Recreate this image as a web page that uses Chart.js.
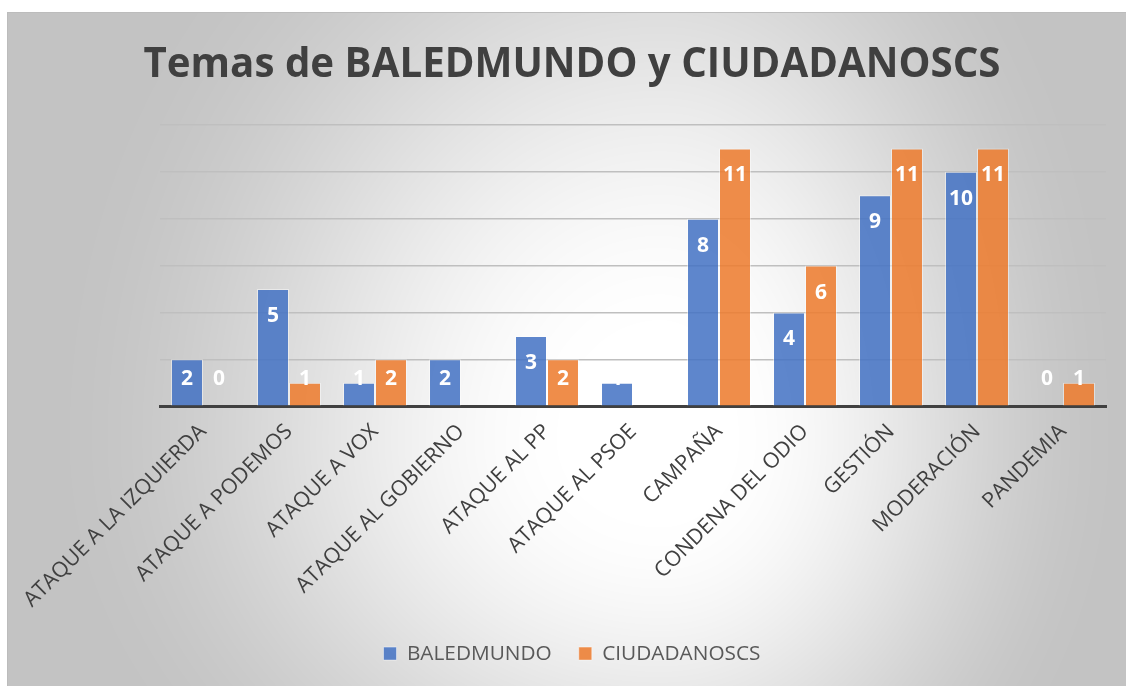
<!DOCTYPE html>
<html><head><meta charset="utf-8">
<script src="https://cdn.jsdelivr.net/npm/chart.js@4.4.1/dist/chart.umd.min.js"></script>
<style>
html,body{margin:0;padding:0;background:#fff;overflow:hidden;}
#wrap{position:absolute;left:7px;top:12px;width:1119px;height:674px;border-top:1px solid #bcbcbc;border-left:1px solid #bcbcbc;}
canvas{display:block;}
</style></head><body>
<div id="wrap"><canvas id="c" width="1118" height="673"></canvas></div>
<script>
const titleText = 'Temas de BALEDMUNDO y CIUDADANOSCS';
const categories = ['ATAQUE A LA IZQUIERDA','ATAQUE A PODEMOS','ATAQUE A VOX','ATAQUE AL GOBIERNO','ATAQUE AL PP','ATAQUE AL PSOE','CAMPAÑA','CONDENA DEL ODIO','GESTIÓN','MODERACIÓN','PANDEMIA'];
const seriesNames = ['BALEDMUNDO','CIUDADANOSCS'];
const baledmundo = [2,5,1,2,3,1,8,4,9,10,0];
const ciudadanoscs = [0,1,2,null,2,null,11,6,11,11,1];
const yTicks = [0,2,4,6,8,10,12];

const FAMILY = '"Open Sans", "Liberation Sans", sans-serif';
function fitSize(text, weight, target){
  const c = document.createElement('canvas').getContext('2d');
  c.font = weight + ' 100px ' + FAMILY;
  return 100 * target / c.measureText(text).width;
}
const titleSize = fitSize(titleText, 'bold', 857);
const xSize = fitSize(categories[0], 'normal', 248);
const legSize = fitSize(seriesNames[0], 'normal', 145);
const labelSize = 21;

// background (radial-like light gradient)
const W = 1118, H = 673, OX = 8, OY = 13;
const bg = document.createElement('canvas'); bg.width = W; bg.height = H;
(function(){
  const g = bg.getContext('2d'); const img = g.createImageData(W, H); const d = img.data;
  const cx = 660, cy = 440;
  for (let y = 0; y < H; y++) {
    const py = y + OY; const dy = py - cy;
    const dyn = dy < 0 ? -dy / 720 : dy / 520;
    for (let x = 0; x < W; x++) {
      const px = x + OX; const dx = px - cx;
      const dxn = dx < 0 ? -dx / 620 : dx / 470;
      let t = Math.sqrt(dxn*dxn + dyn*dyn);
      t = Math.max(0, Math.min(1, (t - 0.12) / 0.88));
      const s = t*t*(3-2*t);
      const v = Math.round(255 - 60 * s);
      const i = (y*W + x) * 4; d[i]=v; d[i+1]=v; d[i+2]=v; d[i+3]=255;
    }
  }
  g.putImageData(img, 0, 0);
})();

const bgPlugin = { id:'bg', beforeDraw(chart){ chart.ctx.drawImage(bg, 0, 0); } };
const labelPlugin = {
  id:'vlabels',
  afterDatasetsDraw(chart){
    const ctx = chart.ctx; const base = chart.scales.y.getPixelForValue(0);
    ctx.save();
    ctx.font = 'bold ' + labelSize + 'px ' + FAMILY;
    ctx.fillStyle = '#ffffff'; ctx.textAlign = 'center'; ctx.textBaseline = 'middle';
    chart.data.datasets.forEach((ds, i) => {
      const meta = chart.getDatasetMeta(i);
      meta.data.forEach((el, j) => {
        const v = ds.data[j]; if (v === null || v === undefined) return;
        const y = Math.min(el.y + 27, base - 27);
        ctx.fillText(String(v), el.x, y);
      });
    });
    ctx.restore();
  }
};

const titleCenter = 53;
new Chart(document.getElementById('c'), {
  type: 'bar',
  data: {
    labels: categories,
    datasets: [
      { label: seriesNames[0], data: baledmundo, backgroundColor: 'rgba(68,114,196,0.86)', borderColor: 'rgba(255,255,255,0.45)', borderWidth: 1, barPercentage: 1, categoryPercentage: 0.744 },
      { label: seriesNames[1], data: ciudadanoscs, backgroundColor: 'rgba(237,125,49,0.88)', borderColor: 'rgba(255,255,255,0.45)', borderWidth: 1, barPercentage: 1, categoryPercentage: 0.744 }
    ]
  },
  options: {
    responsive: false, animation: false, devicePixelRatio: 1,
    layout: { padding: { left: 10, right: 0, top: 0, bottom: 12 } },
    plugins: {
      title: { display: true, text: titleText, color: '#404040', font: { family: FAMILY, weight: 'bold', size: titleSize, lineHeight: 1.2 }, padding: { top: titleCenter - 0.6*titleSize, bottom: 112 - (titleCenter + 0.6*titleSize) } },
      legend: { position: 'bottom', labels: { color: '#595959', font: { family: FAMILY, size: legSize }, boxWidth: 13, boxHeight: 13, padding: 27 } },
      tooltip: { enabled: false }
    },
    scales: {
      x: {
        grid: { display: false },
        border: { display: true, color: '#404040', width: 3 },
        ticks: { color: '#404040', font: { family: FAMILY, size: xSize }, minRotation: 45, maxRotation: 45, autoSkip: false, padding: 5 },
        afterFit(s){ s.height = 210; }
      },
      y: {
        min: yTicks[0], max: yTicks[yTicks.length-1],
        ticks: { display: false, stepSize: yTicks[1] - yTicks[0] },
        grid: { color: '#bfbfbf', lineWidth: 1.5, drawTicks: false },
        border: { display: false },
        afterFit(s){ s.width = 142; }
      },
      y2: {
        position: 'right', display: true,
        min: yTicks[0], max: yTicks[yTicks.length-1],
        ticks: { display: false },
        grid: { display: false, drawTicks: false },
        border: { display: false },
        afterFit(s){ s.width = 20; }
      }
    }
  },
  plugins: [bgPlugin, labelPlugin]
});
</script>
</body></html>
